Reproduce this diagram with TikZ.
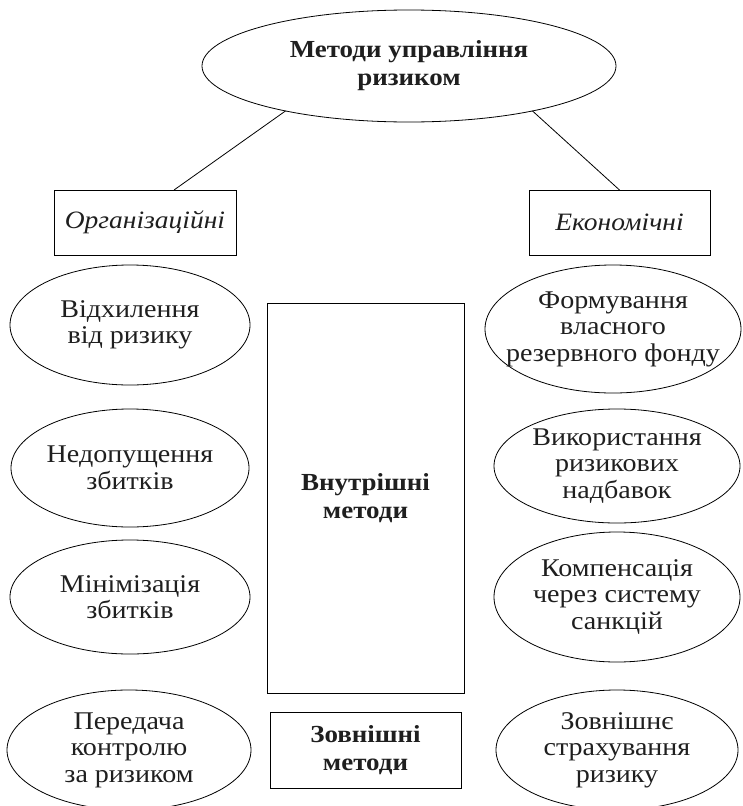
\documentclass[tikz,border=0pt]{standalone}
\usepackage{fontspec}
\setmainfont{Liberation Serif}[FakeStretch=1.1]
\usetikzlibrary{shapes.geometric,calc}
\begin{document}
\begin{tikzpicture}[x=1pt,y=-1pt,
  every node/.style={inner sep=0pt,outer sep=0pt},
  oval/.style={draw,ellipse,line width=0.8pt},
  frame/.style={draw,rectangle,line width=0.8pt},
  txt/.style={align=center,text=black!88,font=\fontsize{25.5}{26.5}\selectfont},
  btxt/.style={align=center,text=black!88,font=\fontsize{24.5}{28}\selectfont\bfseries},
  itxt/.style={align=center,text=black!88,font=\fontsize{25}{26}\selectfont\itshape},
  conn/.style={line width=0.8pt}]
\useasboundingbox[fill=white] (0,0) rectangle (742,806);
% top
\node[oval,minimum width=414,minimum height=112] (top) at (409,66) {};
\node[btxt] (topt) at (top.center) {Методи управління\\ризиком};
% category boxes
\node[frame,minimum width=182,minimum height=65] (org) at (145,222.5) {};
\node[itxt] (orgt) at (org.center) {Організаційні};
\node[frame,minimum width=181,minimum height=65] (eco) at (619.5,222.5) {};
\node[itxt] (ecot) at (eco.center) {Економічні};
\draw[conn] (top.200) -- ($(org.north)+(29,0)$);
\draw[conn] (top.-20) -- (eco.north);
% left ellipses
\node[oval,minimum width=240,minimum height=120] (l1) at (130,325) {};
\node[txt] (l1t) at (l1.center) {Відхилення\\від ризику};
\node[oval,minimum width=238,minimum height=118] (l2) at (130,468) {};
\node[txt] (l2t) at (l2.center) {Недопущення\\ збитків};
\node[oval,minimum width=240,minimum height=114] (l3) at (130,597) {};
\node[txt] (l3t) at (l3.center) {Мінімізація\\збитків};
\node[oval,minimum width=244,minimum height=120] (l4) at (129,750) {};
\node[txt] (l4t) at (l4.center) {Передача\\контролю\\за ризиком};
% middle boxes
\node[frame,minimum width=197,minimum height=390] (inner) at (365.5,498) {};
\node[btxt] (innert) at (inner.center) {Внутрішні\\методи};
\node[frame,minimum width=191,minimum height=76] (outer) at (365.5,750) {};
\node[btxt] (outert) at (outer.center) {Зовнішні\\методи};
% right ellipses
\node[oval,minimum width=256,minimum height=128] (r1) at (613,329) {};
\node[txt] (r1t) at (r1.center) {Формування\\власного\\резервного фонду};
\node[oval,minimum width=246,minimum height=114] (r2) at (617,466) {};
\node[txt] (r2t) at (r2.center) {Використання\\ризикових\\надбавок};
\node[oval,minimum width=246,minimum height=130] (r3) at (617,597) {};
\node[txt] (r3t) at (r3.center) {Компенсація\\через систему\\санкцій};
\node[oval,minimum width=242,minimum height=120] (r4) at (617,750) {};
\node[txt] (r4t) at (r4.center) {Зовнішнє\\страхування\\ризику};
\end{tikzpicture}
\end{document}
